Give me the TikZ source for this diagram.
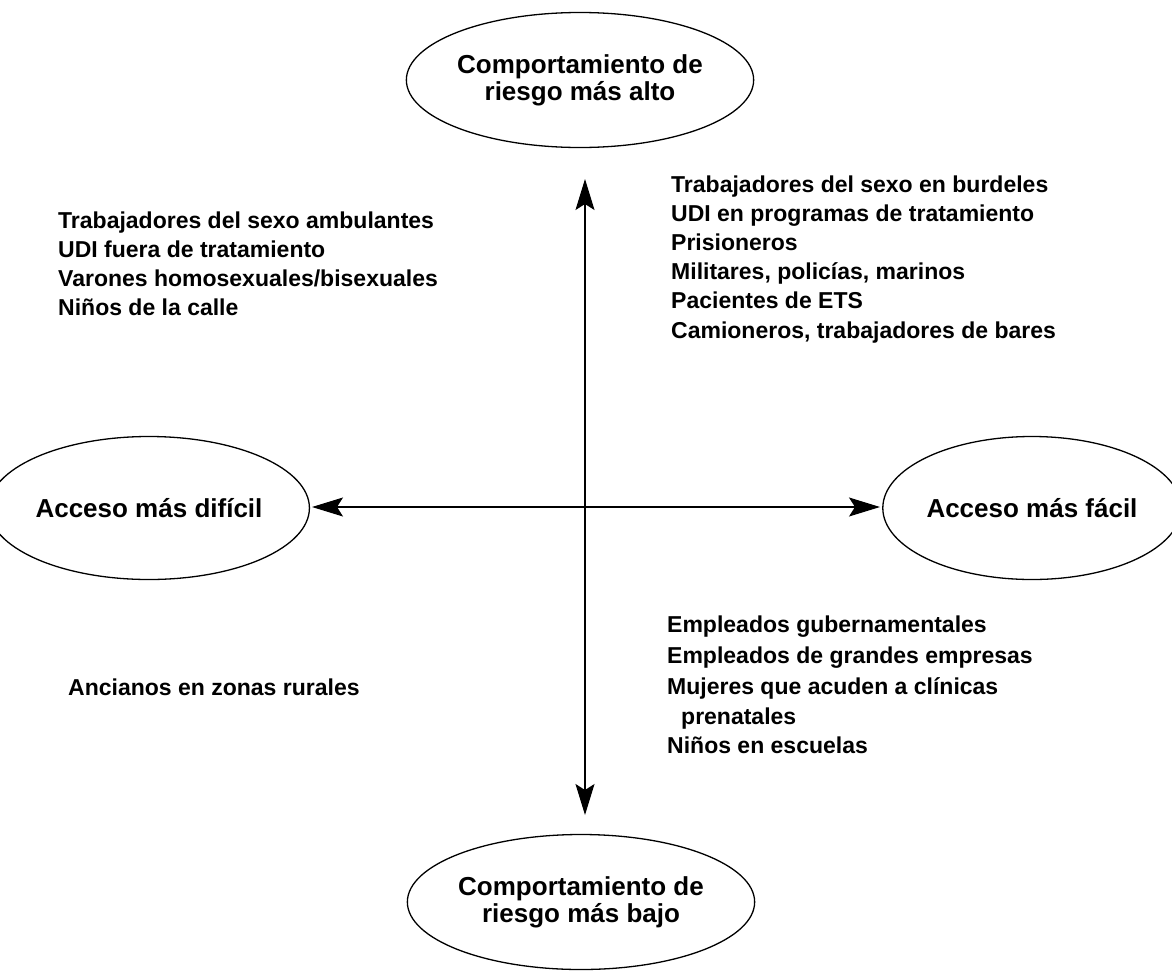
\documentclass[tikz,border=0pt]{standalone}
\usepackage{fontspec}
\setmainfont{Liberation Sans}
\usetikzlibrary{shapes.geometric,arrows.meta}
\begin{document}
\begin{tikzpicture}[x=1pt,y=-1pt,
  oval/.style={ellipse,draw,line width=1.3pt,inner sep=0pt,align=center,font=\fontsize{26}{27}\selectfont\bfseries},
  item/.style={anchor=base west,inner sep=0pt,font=\fontsize{23}{27}\selectfont\bfseries},
  axis/.style={line width=1.3pt,{Stealth[length=31pt,width=19pt,inset=6pt]}-{Stealth[length=31pt,width=19pt,inset=6pt]}}]
\useasboundingbox (0,0) rectangle (1172,972);

\node[oval,minimum width=266pt,minimum height=135pt] (hi) at (580,80) {Comportamiento de\\riesgo más alto};
\node[oval,minimum width=275pt,minimum height=135pt] (lo) at (581,902) {Comportamiento de\\riesgo más bajo};
\node[oval,minimum width=283pt,minimum height=143pt] (dif) at (149,508) {Acceso más difícil};
\node[oval,minimum width=276pt,minimum height=143pt] (fac) at (1032,508) {Acceso más fácil};

\coordinate (ut) at (585,179);
\coordinate (ub) at (585,815);
\coordinate (lt) at (312,507);
\coordinate (rt) at (880,507);
\draw[axis] (ut) -- (ub);
\draw[axis] (lt) -- (rt);

\node[item] (a1) at (58,228) {Trabajadores del sexo ambulantes};
\node[item] (a2) at (58,257) {UDI fuera de tratamiento};
\node[item] (a3) at (58,286) {Varones homosexuales/bisexuales};
\node[item] (a4) at (58,315) {Niños de la calle};

\node[item] (b1) at (671,192) {Trabajadores del sexo en burdeles};
\node[item] (b2) at (671,221) {UDI en programas de tratamiento};
\node[item] (b3) at (671,250) {Prisioneros};
\node[item] (b4) at (671,279) {Militares, policías, marinos};
\node[item] (b5) at (671,308) {Pacientes de ETS};
\node[item] (b6) at (671,338) {Camioneros, trabajadores de bares};

\node[item] (c1) at (68,695) {Ancianos en zonas rurales};

\node[item] (d1) at (667,632) {Empleados gubernamentales};
\node[item] (d2) at (667,663) {Empleados de grandes empresas};
\node[item] (d3) at (667,694) {Mujeres que acuden a clínicas};
\node[item] (d4) at (681,724) {prenatales};
\node[item] (d5) at (667,753) {Niños en escuelas};
\end{tikzpicture}
\end{document}
